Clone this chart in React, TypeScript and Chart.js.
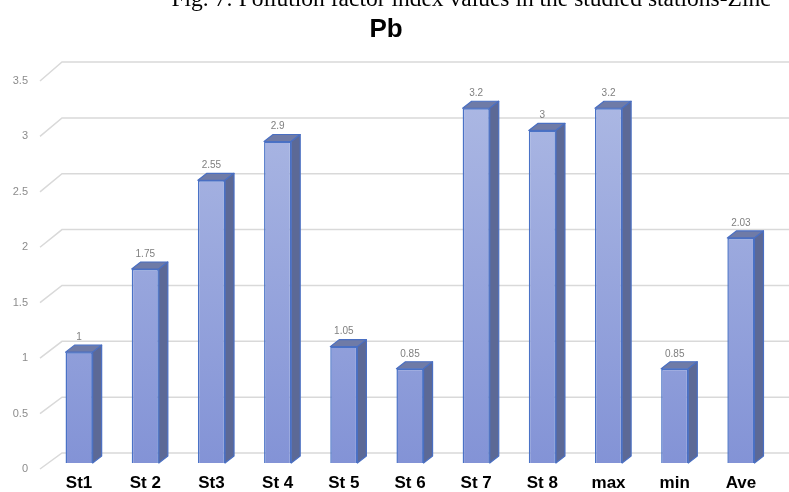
import React, { useEffect, useRef } from "react";
import { Chart, registerables } from "chart.js";

Chart.register(...registerables);

const categories = ["St1", "St 2", "St3", "St 4", "St 5", "St 6", "St 7", "St 8", "max", "min", "Ave"];
const values = [1, 1.75, 2.55, 2.9, 1.05, 0.85, 3.2, 3, 3.2, 0.85, 2.03];
const valueLabels = ["1", "1.75", "2.55", "2.9", "1.05", "0.85", "3.2", "3", "3.2", "0.85", "2.03"];
const yTicks = [0, 0.5, 1, 1.5, 2, 2.5, 3, 3.5];
const yTickLabels = ["0", "0.5", "1", "1.5", "2", "2.5", "3", "3.5"];
const chartTitle = "Pb";
const caption = "Fig. 7: Pollution factor index values in the studied stations-Zinc";

// 3D look: depth of each column and of the back wall
const BAR_DX = 9;
const BAR_DY = 7;

const depthPlugin = {
  id: "depth3d",
  beforeDatasetsDraw(chart: any) {
    const { ctx, chartArea, scales } = chart;
    const y = scales.y;
    ctx.save();
    // caption line above the chart
    ctx.fillStyle = "#000";
    ctx.font = "23.5px 'Liberation Serif'";
    ctx.textAlign = "center";
    ctx.textBaseline = "alphabetic";
    ctx.fillText(caption, 471, 6);
    // chart title
    ctx.font = "bold 26px 'Liberation Sans'";
    ctx.fillText(chartTitle, 386, 37);

    // gridlines on the back wall, joined to the value axis by a slanted side-wall line
    ctx.strokeStyle = "#d9d9d9";
    ctx.lineWidth = 1.5;
    const x0 = chartArea.left - 6;
    yTicks.forEach((v, i) => {
      const py = y.getPixelForValue(v);
      const front = py + 6;
      const back = py - 10 - 0.85 * v;
      ctx.beginPath();
      ctx.moveTo(x0, front);
      ctx.lineTo(x0 + 22, back);
      ctx.lineTo(chart.width, back);
      ctx.stroke();
      ctx.fillStyle = "#8c8c8c";
      ctx.font = "11px 'Liberation Sans'";
      ctx.textAlign = "right";
      ctx.textBaseline = "middle";
      ctx.fillText(yTickLabels[i], 28, front);
    });
    ctx.restore();
  },
  afterDatasetsDraw(chart: any) {
    const { ctx } = chart;
    const meta = chart.getDatasetMeta(0);
    ctx.save();
    ctx.lineWidth = 1.2;
    ctx.strokeStyle = "#4a6fc2";
    ctx.lineJoin = "round";
    meta.data.forEach((bar: any, i: number) => {
      const { x, y, base, width } = bar.getProps(["x", "y", "base", "width"], true);
      const l = x - width / 2;
      const r = x + width / 2;
      // top face
      ctx.beginPath();
      ctx.moveTo(l, y);
      ctx.lineTo(l + BAR_DX, y - BAR_DY);
      ctx.lineTo(r + BAR_DX, y - BAR_DY);
      ctx.lineTo(r, y);
      ctx.closePath();
      ctx.fillStyle = "#6f7ba7";
      ctx.fill();
      ctx.stroke();
      // side face
      ctx.beginPath();
      ctx.moveTo(r, y);
      ctx.lineTo(r + BAR_DX, y - BAR_DY);
      ctx.lineTo(r + BAR_DX, base - BAR_DY);
      ctx.lineTo(r, base);
      ctx.closePath();
      ctx.fillStyle = "#5c6996";
      ctx.fill();
      ctx.stroke();
      // value label
      ctx.fillStyle = "#7f7f7f";
      ctx.font = "10px 'Liberation Sans'";
      ctx.textAlign = "center";
      ctx.textBaseline = "middle";
      ctx.fillText(valueLabels[i], x, y - 15);
    });
    ctx.restore();
  },
};

export default function App() {
  const ref = useRef<HTMLCanvasElement>(null);

  useEffect(() => {
    const canvas = ref.current;
    if (!canvas) return;
    const chart = new Chart(canvas, {
      type: "bar",
      data: {
        labels: categories,
        datasets: [
          {
            data: values,
            backgroundColor: (c: any) => {
              const area = c.chart.chartArea;
              if (!area) return "#98a7dc";
              const g = c.chart.ctx.createLinearGradient(0, area.top, 0, area.bottom);
              g.addColorStop(0, "#aebae4");
              g.addColorStop(1, "#8393d6");
              return g;
            },
            borderColor: "#4a72c6",
            borderWidth: 1.5,
            barPercentage: 0.41,
            categoryPercentage: 1,
          },
        ],
      },
      options: {
        responsive: false,
        animation: false,
        devicePixelRatio: 1,
        layout: { padding: { left: 46, right: 15, top: 75, bottom: 0 } },
        plugins: {
          legend: { display: false },
          title: { display: false },
          tooltip: { enabled: false },
        },
        scales: {
          x: {
            grid: { display: false, drawTicks: false },
            border: { display: false },
            ticks: {
              color: "#000",
              padding: 10,
              font: { family: "'Liberation Sans'", size: 17, weight: "bold" },
            },
            afterFit: (s: any) => {
              s.height = 29;
            },
          },
          y: {
            display: false,
            min: 0,
            max: 3.5,
          },
        },
      },
      plugins: [depthPlugin],
    });
    return () => chart.destroy();
  }, []);

  return (
    <canvas
      ref={ref}
      width={789}
      height={492}
      style={{ position: "absolute", left: 0, top: 0, width: 789, height: 492 }}
    />
  );
}
